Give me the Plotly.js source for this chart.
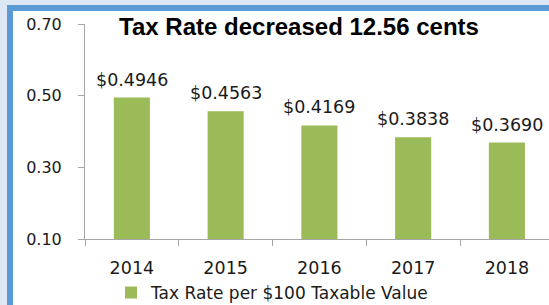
<!DOCTYPE html>
<html>
<head>
<meta charset="utf-8">
<script src="https://cdn.plot.ly/plotly-3.0.1.min.js"></script>
<style>
  html, body { margin: 0; padding: 0; width: 549px; height: 305px; overflow: hidden; background: #dde8f4; }
  #frame { position: absolute; left: 7px; top: 5px; width: 560px; height: 320px; background: #5b9bd5; }
  #inner { position: absolute; left: 13px; top: 11px; width: 560px; height: 320px; background: #ffffff; }
  #chart { position: absolute; left: 0; top: 0; width: 549px; height: 305px; }
</style>
</head>
<body>
<div id="frame"></div>
<div id="inner"></div>
<div id="chart"></div>
<script>
const years = ['2014', '2015', '2016', '2017', '2018'];
const taxRates = [0.4946, 0.4563, 0.4169, 0.3838, 0.3690];
const rateLabels = ['$0.4946', '$0.4563', '$0.4169', '$0.3838', '$0.3690'];
const yTickValues = [0.10, 0.30, 0.50, 0.70];
const seriesName = 'Tax Rate per $100 Taxable Value';
const chartTitle = 'Tax Rate decreased 12.56 cents';

const textFont = { family: 'DejaVu Sans', size: 17.5, color: '#1a1a1a' };

const trace = {
  type: 'bar',
  x: years,
  y: taxRates,
  name: seriesName,
  marker: { color: '#9bbb59' },
  showlegend: true,
  hoverinfo: 'x+y'
};

const annotations = years.map((yr, i) => ({
  x: i, y: taxRates[i], xref: 'x', yref: 'y',
  text: rateLabels[i], showarrow: false,
  xanchor: 'center', yanchor: 'bottom', yshift: 6,
  font: textFont
}));

const layout = {
  width: 549, height: 305,
  margin: { l: 85, r: 0, t: 24, b: 66, pad: 0, autoexpand: false },
  paper_bgcolor: 'rgba(0,0,0,0)',
  plot_bgcolor: 'rgba(0,0,0,0)',
  bargap: 0.615,
  title: {
    text: '<b>' + chartTitle + '</b>',
    font: { family: 'Liberation Sans', size: 24, color: '#000000' },
    x: 299 / 549, xref: 'container', xanchor: 'center',
    y: 1 - 27 / 305, yref: 'container', yanchor: 'middle'
  },
  xaxis: {
    type: 'category',
    range: [-0.5, 4.449],
    showline: true, linecolor: '#a6a6a6', linewidth: 1,
    ticks: 'outside', ticklen: 6, tickcolor: '#a6a6a6', tickson: 'boundaries',
    tickfont: textFont,
    ticklabelstandoff: 13,
    showgrid: false, zeroline: false, fixedrange: true
  },
  yaxis: {
    range: [0.1, 0.7],
    tickvals: yTickValues,
    tickformat: '.2f',
    showline: true, linecolor: '#a6a6a6', linewidth: 1,
    ticks: 'outside', ticklen: 6, tickcolor: '#a6a6a6',
    tickfont: { family: 'DejaVu Sans', size: 16, color: '#1a1a1a' },
    ticklabelstandoff: 13,
    showgrid: false, zeroline: false, fixedrange: true
  },
  showlegend: true,
  legend: {
    orientation: 'h',
    x: 26 / 464, xanchor: 'left',
    y: -(293 - 239) / 215, yanchor: 'middle',
    font: { family: 'DejaVu Sans', size: 17, color: '#1a1a1a' },
    bgcolor: 'rgba(0,0,0,0)'
  },
  annotations: annotations
};

Plotly.newPlot('chart', [trace], layout, { displayModeBar: false, staticPlot: true });
</script>
</body>
</html>
